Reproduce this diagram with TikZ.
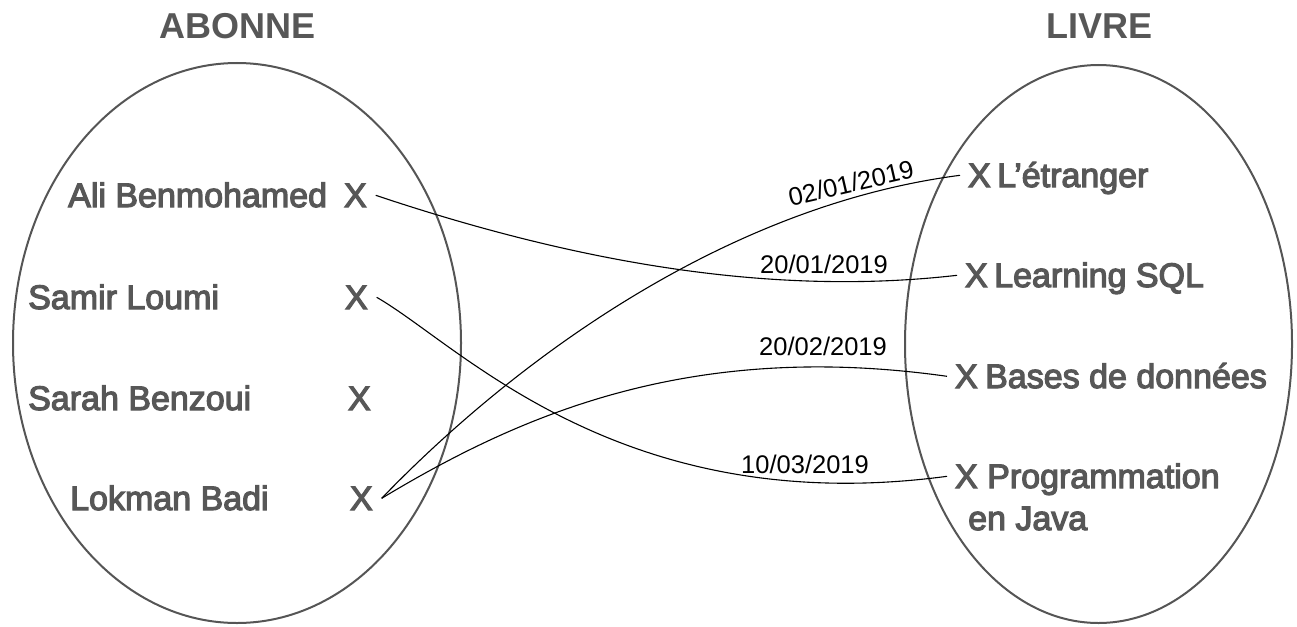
\documentclass[tikz,border=0pt]{standalone}
\usepackage{fontspec}
\setmainfont{Liberation Sans}
\newfontfamily\medfont[FakeBold=3.5]{Liberation Sans}
\usetikzlibrary{calc}
\definecolor{txtgray}{HTML}{575757}
\definecolor{setgray}{HTML}{555555}
\tikzset{
  settitle/.style={font=\fontsize{36}{40}\selectfont\bfseries, text=txtgray, inner sep=0pt, anchor=base},
  setshape/.style={draw=setgray, line width=2pt},
  entry/.style={font=\medfont\fontsize{34}{40}\selectfont, text=txtgray, inner sep=0pt, anchor=base west},
  leftmark/.style={entry, outer xsep=9pt},
  rightmark/.style={entry, outer xsep=8pt},
  link/.style={draw=black, line width=1.1pt},
  datelbl/.style={font=\fontsize{25.5}{30}\selectfont, text=black, inner sep=0pt}
}
\begin{document}
\begin{tikzpicture}[x=1pt, y=-1pt]
\useasboundingbox (0,0) rectangle (1297,626);

% sets
\node[settitle] (tA) at (238,38) {ABONNE};
\node[settitle] (tL) at (1099,38) {LIVRE};
\draw[setshape] (237,343) ellipse [x radius=224, y radius=280];
\draw[setshape] (1098.5,344) ellipse [x radius=193.5, y radius=279];

% subscribers
\node[entry] (n1) at (68,207) {Ali Benmohamed};
\node[entry] (n2) at (28,309) {Samir Loumi};
\node[entry] (n3) at (28,410) {Sarah Benzoui};
\node[entry] (n4) at (70,510) {Lokman Badi};
% the marks sit at their glyph positions; outer xsep keeps the links off them
\node[leftmark] (a1) at (335,207) {X};
\node[leftmark] (a2) at (336,309) {X};
\node[leftmark] (a3) at (339,410) {X};
\node[leftmark] (a4) at (341,510) {X};

% books
\node[rightmark] (b1) at (960,187) {X};
\node[rightmark] (b2) at (957,287) {X};
\node[rightmark] (b3) at (947,388) {X};
\node[rightmark] (b4) at (947,488) {X};
\node[entry] (l1) at (997,187) {L’étranger};
\node[entry] (l2) at (994,287) {Learning SQL};
\node[entry] (l3) at (985,388) {Bases de données};
\node[entry] (l4) at (987,488) {Programmation};
\node[entry] (l4b) at (968,530) {en Java};

% loans
\draw[link] (a1.east) .. controls (560,257) and (760,298) .. (b2.west);
\draw[link] (a2.east) .. controls (460,345) and (620,520) .. (b4.west);
\draw[link] (a4.east) .. controls (520,355) and (730,205) .. (b1.west);
\draw[link] (a4.east) .. controls (520,415) and (690,340) .. (b3.west);

% loan dates
\node[datelbl, anchor=base] (d1) at (824,273) {20/01/2019};
\node[datelbl, anchor=base] (d2) at (823,355) {20/02/2019};
\node[datelbl, anchor=base] (d3) at (805,473) {10/03/2019};
\node[datelbl, rotate=13] (d4) at (851,183) {02/01/2019};
\end{tikzpicture}
\end{document}
